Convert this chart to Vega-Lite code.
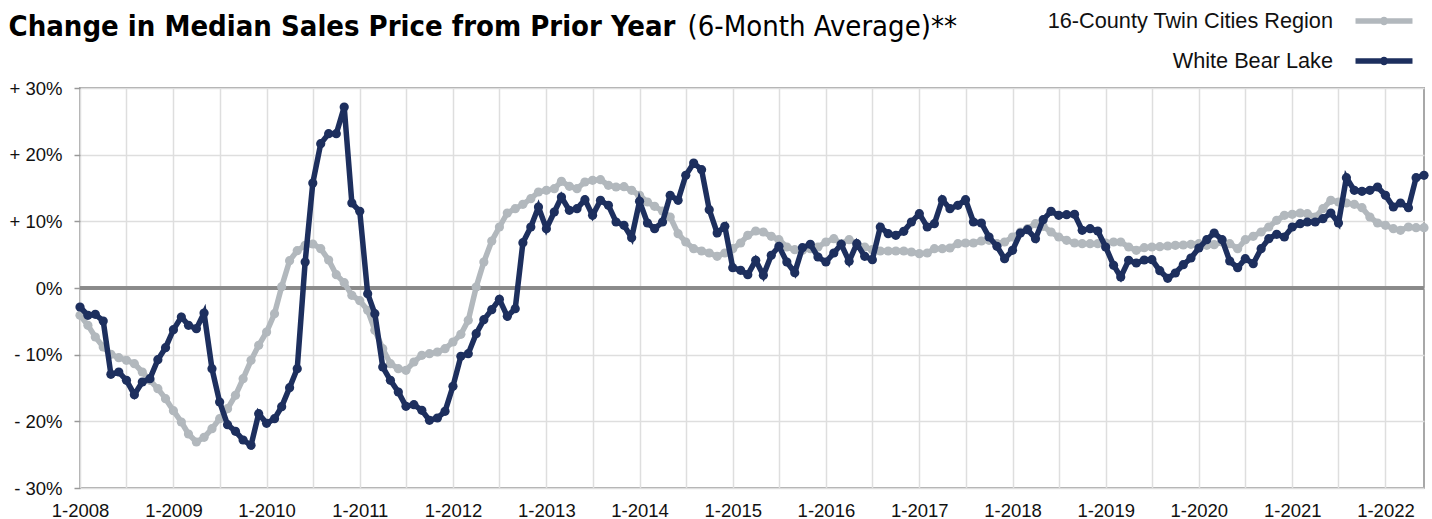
{
  "$schema": "https://vega.github.io/schema/vega-lite/v6.json",
  "width": 1344,
  "height": 400,
  "autosize": {"type": "none"},
  "padding": {"left": 80, "top": 88, "right": 8, "bottom": 31},
  "background": "white",
  "datasets": {
    "region": [
      {"d": "2008-01-01", "v": -4.1}, {"d": "2008-02-01", "v": -5.6}, {"d": "2008-03-01", "v": -7.35}, {"d": "2008-04-01", "v": -8.85}, {"d": "2008-05-01", "v": -9.95}, {"d": "2008-06-01", "v": -10.45}, {"d": "2008-07-01", "v": -10.85}, {"d": "2008-08-01", "v": -11.35}, {"d": "2008-09-01", "v": -12.6}, {"d": "2008-10-01", "v": -13.85}, {"d": "2008-11-01", "v": -15.1}, {"d": "2008-12-01", "v": -16.6},
      {"d": "2009-01-01", "v": -18.4}, {"d": "2009-02-01", "v": -20.1}, {"d": "2009-03-01", "v": -21.9}, {"d": "2009-04-01", "v": -23.1}, {"d": "2009-05-01", "v": -22.4}, {"d": "2009-06-01", "v": -21.1}, {"d": "2009-07-01", "v": -19.6}, {"d": "2009-08-01", "v": -18.1}, {"d": "2009-09-01", "v": -16.1}, {"d": "2009-10-01", "v": -13.6}, {"d": "2009-11-01", "v": -10.85}, {"d": "2009-12-01", "v": -8.6},
      {"d": "2010-01-01", "v": -6.6}, {"d": "2010-02-01", "v": -3.85}, {"d": "2010-03-01", "v": 0.2}, {"d": "2010-04-01", "v": 4.1}, {"d": "2010-05-01", "v": 5.6}, {"d": "2010-06-01", "v": 6.4}, {"d": "2010-07-01", "v": 6.6}, {"d": "2010-08-01", "v": 5.9}, {"d": "2010-09-01", "v": 4.2}, {"d": "2010-10-01", "v": 2.0}, {"d": "2010-11-01", "v": 0.8}, {"d": "2010-12-01", "v": -1.1},
      {"d": "2011-01-01", "v": -1.9}, {"d": "2011-02-01", "v": -3.35}, {"d": "2011-03-01", "v": -6.35}, {"d": "2011-04-01", "v": -9.1}, {"d": "2011-05-01", "v": -11.35}, {"d": "2011-06-01", "v": -12.1}, {"d": "2011-07-01", "v": -12.35}, {"d": "2011-08-01", "v": -11.1}, {"d": "2011-09-01", "v": -10.1}, {"d": "2011-10-01", "v": -9.85}, {"d": "2011-11-01", "v": -9.6}, {"d": "2011-12-01", "v": -9.1},
      {"d": "2012-01-01", "v": -8.1}, {"d": "2012-02-01", "v": -6.95}, {"d": "2012-03-01", "v": -4.85}, {"d": "2012-04-01", "v": 0.15}, {"d": "2012-05-01", "v": 3.9}, {"d": "2012-06-01", "v": 7.05}, {"d": "2012-07-01", "v": 9.15}, {"d": "2012-08-01", "v": 11.25}, {"d": "2012-09-01", "v": 11.9}, {"d": "2012-10-01", "v": 12.55}, {"d": "2012-11-01", "v": 13.4}, {"d": "2012-12-01", "v": 14.4},
      {"d": "2013-01-01", "v": 14.65}, {"d": "2013-02-01", "v": 14.9}, {"d": "2013-03-01", "v": 16.0}, {"d": "2013-04-01", "v": 15.25}, {"d": "2013-05-01", "v": 14.9}, {"d": "2013-06-01", "v": 15.9}, {"d": "2013-07-01", "v": 16.15}, {"d": "2013-08-01", "v": 16.25}, {"d": "2013-09-01", "v": 15.4}, {"d": "2013-10-01", "v": 15.15}, {"d": "2013-11-01", "v": 15.2}, {"d": "2013-12-01", "v": 14.65},
      {"d": "2014-01-01", "v": 13.9}, {"d": "2014-02-01", "v": 12.9}, {"d": "2014-03-01", "v": 12.25}, {"d": "2014-04-01", "v": 11.55}, {"d": "2014-05-01", "v": 10.65}, {"d": "2014-06-01", "v": 8.15}, {"d": "2014-07-01", "v": 6.9}, {"d": "2014-08-01", "v": 5.9}, {"d": "2014-09-01", "v": 5.55}, {"d": "2014-10-01", "v": 5.25}, {"d": "2014-11-01", "v": 4.75}, {"d": "2014-12-01", "v": 5.25},
      {"d": "2015-01-01", "v": 5.9}, {"d": "2015-02-01", "v": 6.75}, {"d": "2015-03-01", "v": 7.9}, {"d": "2015-04-01", "v": 8.55}, {"d": "2015-05-01", "v": 8.4}, {"d": "2015-06-01", "v": 7.75}, {"d": "2015-07-01", "v": 7.25}, {"d": "2015-08-01", "v": 6.15}, {"d": "2015-09-01", "v": 5.75}, {"d": "2015-10-01", "v": 5.65}, {"d": "2015-11-01", "v": 5.9}, {"d": "2015-12-01", "v": 6.15},
      {"d": "2016-01-01", "v": 6.9}, {"d": "2016-02-01", "v": 7.4}, {"d": "2016-03-01", "v": 6.65}, {"d": "2016-04-01", "v": 7.25}, {"d": "2016-05-01", "v": 6.65}, {"d": "2016-06-01", "v": 6.15}, {"d": "2016-07-01", "v": 5.75}, {"d": "2016-08-01", "v": 5.55}, {"d": "2016-09-01", "v": 5.55}, {"d": "2016-10-01", "v": 5.55}, {"d": "2016-11-01", "v": 5.55}, {"d": "2016-12-01", "v": 5.4},
      {"d": "2017-01-01", "v": 5.15}, {"d": "2017-02-01", "v": 5.25}, {"d": "2017-03-01", "v": 5.9}, {"d": "2017-04-01", "v": 5.9}, {"d": "2017-05-01", "v": 6.0}, {"d": "2017-06-01", "v": 6.65}, {"d": "2017-07-01", "v": 6.75}, {"d": "2017-08-01", "v": 6.75}, {"d": "2017-09-01", "v": 7.05}, {"d": "2017-10-01", "v": 7.15}, {"d": "2017-11-01", "v": 6.65}, {"d": "2017-12-01", "v": 6.9},
      {"d": "2018-01-01", "v": 7.65}, {"d": "2018-02-01", "v": 8.4}, {"d": "2018-03-01", "v": 8.9}, {"d": "2018-04-01", "v": 9.65}, {"d": "2018-05-01", "v": 9.25}, {"d": "2018-06-01", "v": 8.4}, {"d": "2018-07-01", "v": 7.65}, {"d": "2018-08-01", "v": 7.15}, {"d": "2018-09-01", "v": 6.75}, {"d": "2018-10-01", "v": 6.65}, {"d": "2018-11-01", "v": 6.65}, {"d": "2018-12-01", "v": 6.65},
      {"d": "2019-01-01", "v": 6.75}, {"d": "2019-02-01", "v": 6.9}, {"d": "2019-03-01", "v": 6.9}, {"d": "2019-04-01", "v": 6.15}, {"d": "2019-05-01", "v": 5.65}, {"d": "2019-06-01", "v": 6.05}, {"d": "2019-07-01", "v": 6.15}, {"d": "2019-08-01", "v": 6.2}, {"d": "2019-09-01", "v": 6.3}, {"d": "2019-10-01", "v": 6.4}, {"d": "2019-11-01", "v": 6.45}, {"d": "2019-12-01", "v": 6.55},
      {"d": "2020-01-01", "v": 6.65}, {"d": "2020-02-01", "v": 6.4}, {"d": "2020-03-01", "v": 6.5}, {"d": "2020-04-01", "v": 6.9}, {"d": "2020-05-01", "v": 6.65}, {"d": "2020-06-01", "v": 5.9}, {"d": "2020-07-01", "v": 7.25}, {"d": "2020-08-01", "v": 7.75}, {"d": "2020-09-01", "v": 8.4}, {"d": "2020-10-01", "v": 9.15}, {"d": "2020-11-01", "v": 10.15}, {"d": "2020-12-01", "v": 10.9},
      {"d": "2021-01-01", "v": 11.05}, {"d": "2021-02-01", "v": 11.25}, {"d": "2021-03-01", "v": 11.15}, {"d": "2021-04-01", "v": 10.65}, {"d": "2021-05-01", "v": 11.9}, {"d": "2021-06-01", "v": 13.15}, {"d": "2021-07-01", "v": 12.9}, {"d": "2021-08-01", "v": 12.75}, {"d": "2021-09-01", "v": 12.55}, {"d": "2021-10-01", "v": 12.05}, {"d": "2021-11-01", "v": 10.65}, {"d": "2021-12-01", "v": 9.75},
      {"d": "2022-01-01", "v": 9.4}, {"d": "2022-02-01", "v": 8.9}, {"d": "2022-03-01", "v": 8.65}, {"d": "2022-04-01", "v": 9.15}, {"d": "2022-05-01", "v": 9.05}, {"d": "2022-06-01", "v": 9.05}
    ],
    "wbl": [
      {"d": "2008-01-01", "v": -2.85}, {"d": "2008-02-01", "v": -4.1}, {"d": "2008-03-01", "v": -3.95}, {"d": "2008-04-01", "v": -4.95}, {"d": "2008-05-01", "v": -12.95}, {"d": "2008-06-01", "v": -12.6}, {"d": "2008-07-01", "v": -13.85}, {"d": "2008-08-01", "v": -16.0}, {"d": "2008-09-01", "v": -14.1}, {"d": "2008-10-01", "v": -13.6}, {"d": "2008-11-01", "v": -10.75}, {"d": "2008-12-01", "v": -8.95},
      {"d": "2009-01-01", "v": -6.25}, {"d": "2009-02-01", "v": -4.35}, {"d": "2009-03-01", "v": -5.6}, {"d": "2009-04-01", "v": -6.1}, {"d": "2009-05-01", "v": -3.75}, {"d": "2009-06-01", "v": -12.1}, {"d": "2009-07-01", "v": -17.1}, {"d": "2009-08-01", "v": -20.5}, {"d": "2009-09-01", "v": -21.5}, {"d": "2009-10-01", "v": -22.8}, {"d": "2009-11-01", "v": -23.6}, {"d": "2009-12-01", "v": -18.85},
      {"d": "2010-01-01", "v": -20.3}, {"d": "2010-02-01", "v": -19.6}, {"d": "2010-03-01", "v": -17.8}, {"d": "2010-04-01", "v": -14.95}, {"d": "2010-05-01", "v": -12.1}, {"d": "2010-06-01", "v": 3.9}, {"d": "2010-07-01", "v": 15.75}, {"d": "2010-08-01", "v": 21.65}, {"d": "2010-09-01", "v": 23.15}, {"d": "2010-10-01", "v": 23.15}, {"d": "2010-11-01", "v": 27.15}, {"d": "2010-12-01", "v": 12.75},
      {"d": "2011-01-01", "v": 11.5}, {"d": "2011-02-01", "v": -0.85}, {"d": "2011-03-01", "v": -3.85}, {"d": "2011-04-01", "v": -11.85}, {"d": "2011-05-01", "v": -13.85}, {"d": "2011-06-01", "v": -15.6}, {"d": "2011-07-01", "v": -17.75}, {"d": "2011-08-01", "v": -17.5}, {"d": "2011-09-01", "v": -18.35}, {"d": "2011-10-01", "v": -19.85}, {"d": "2011-11-01", "v": -19.5}, {"d": "2011-12-01", "v": -18.5},
      {"d": "2012-01-01", "v": -14.75}, {"d": "2012-02-01", "v": -10.25}, {"d": "2012-03-01", "v": -9.85}, {"d": "2012-04-01", "v": -6.85}, {"d": "2012-05-01", "v": -4.75}, {"d": "2012-06-01", "v": -3.25}, {"d": "2012-07-01", "v": -1.7}, {"d": "2012-08-01", "v": -4.25}, {"d": "2012-09-01", "v": -3.1}, {"d": "2012-10-01", "v": 6.8}, {"d": "2012-11-01", "v": 9.15}, {"d": "2012-12-01", "v": 12.15},
      {"d": "2013-01-01", "v": 8.9}, {"d": "2013-02-01", "v": 11.4}, {"d": "2013-03-01", "v": 13.65}, {"d": "2013-04-01", "v": 11.65}, {"d": "2013-05-01", "v": 11.9}, {"d": "2013-06-01", "v": 13.25}, {"d": "2013-07-01", "v": 10.9}, {"d": "2013-08-01", "v": 13.15}, {"d": "2013-09-01", "v": 12.4}, {"d": "2013-10-01", "v": 9.9}, {"d": "2013-11-01", "v": 9.4}, {"d": "2013-12-01", "v": 7.55},
      {"d": "2014-01-01", "v": 13.0}, {"d": "2014-02-01", "v": 9.75}, {"d": "2014-03-01", "v": 8.9}, {"d": "2014-04-01", "v": 9.9}, {"d": "2014-05-01", "v": 13.9}, {"d": "2014-06-01", "v": 13.15}, {"d": "2014-07-01", "v": 16.9}, {"d": "2014-08-01", "v": 18.75}, {"d": "2014-09-01", "v": 17.75}, {"d": "2014-10-01", "v": 11.75}, {"d": "2014-11-01", "v": 8.25}, {"d": "2014-12-01", "v": 9.25},
      {"d": "2015-01-01", "v": 3.05}, {"d": "2015-02-01", "v": 2.65}, {"d": "2015-03-01", "v": 2.0}, {"d": "2015-04-01", "v": 4.15}, {"d": "2015-05-01", "v": 1.9}, {"d": "2015-06-01", "v": 4.9}, {"d": "2015-07-01", "v": 6.25}, {"d": "2015-08-01", "v": 3.9}, {"d": "2015-09-01", "v": 2.3}, {"d": "2015-10-01", "v": 6.05}, {"d": "2015-11-01", "v": 6.55}, {"d": "2015-12-01", "v": 4.65},
      {"d": "2016-01-01", "v": 3.9}, {"d": "2016-02-01", "v": 5.25}, {"d": "2016-03-01", "v": 6.55}, {"d": "2016-04-01", "v": 4.0}, {"d": "2016-05-01", "v": 6.65}, {"d": "2016-06-01", "v": 4.75}, {"d": "2016-07-01", "v": 4.25}, {"d": "2016-08-01", "v": 9.15}, {"d": "2016-09-01", "v": 8.15}, {"d": "2016-10-01", "v": 7.9}, {"d": "2016-11-01", "v": 8.5}, {"d": "2016-12-01", "v": 9.9},
      {"d": "2017-01-01", "v": 11.15}, {"d": "2017-02-01", "v": 9.15}, {"d": "2017-03-01", "v": 9.65}, {"d": "2017-04-01", "v": 13.25}, {"d": "2017-05-01", "v": 11.9}, {"d": "2017-06-01", "v": 12.4}, {"d": "2017-07-01", "v": 13.25}, {"d": "2017-08-01", "v": 9.9}, {"d": "2017-09-01", "v": 9.75}, {"d": "2017-10-01", "v": 7.65}, {"d": "2017-11-01", "v": 6.25}, {"d": "2017-12-01", "v": 4.4},
      {"d": "2018-01-01", "v": 5.65}, {"d": "2018-02-01", "v": 8.25}, {"d": "2018-03-01", "v": 8.75}, {"d": "2018-04-01", "v": 7.4}, {"d": "2018-05-01", "v": 10.25}, {"d": "2018-06-01", "v": 11.5}, {"d": "2018-07-01", "v": 10.9}, {"d": "2018-08-01", "v": 11.0}, {"d": "2018-09-01", "v": 11.05}, {"d": "2018-10-01", "v": 8.65}, {"d": "2018-11-01", "v": 8.9}, {"d": "2018-12-01", "v": 8.55},
      {"d": "2019-01-01", "v": 6.15}, {"d": "2019-02-01", "v": 3.4}, {"d": "2019-03-01", "v": 1.65}, {"d": "2019-04-01", "v": 4.15}, {"d": "2019-05-01", "v": 3.75}, {"d": "2019-06-01", "v": 4.2}, {"d": "2019-07-01", "v": 4.25}, {"d": "2019-08-01", "v": 2.6}, {"d": "2019-09-01", "v": 1.45}, {"d": "2019-10-01", "v": 2.25}, {"d": "2019-11-01", "v": 3.5}, {"d": "2019-12-01", "v": 4.5},
      {"d": "2020-01-01", "v": 6.0}, {"d": "2020-02-01", "v": 7.25}, {"d": "2020-03-01", "v": 8.25}, {"d": "2020-04-01", "v": 7.25}, {"d": "2020-05-01", "v": 4.05}, {"d": "2020-06-01", "v": 3.05}, {"d": "2020-07-01", "v": 4.4}, {"d": "2020-08-01", "v": 3.65}, {"d": "2020-09-01", "v": 5.9}, {"d": "2020-10-01", "v": 7.4}, {"d": "2020-11-01", "v": 8.05}, {"d": "2020-12-01", "v": 7.65},
      {"d": "2021-01-01", "v": 9.15}, {"d": "2021-02-01", "v": 9.65}, {"d": "2021-03-01", "v": 9.9}, {"d": "2021-04-01", "v": 9.9}, {"d": "2021-05-01", "v": 10.4}, {"d": "2021-06-01", "v": 11.25}, {"d": "2021-07-01", "v": 9.75}, {"d": "2021-08-01", "v": 16.55}, {"d": "2021-09-01", "v": 14.65}, {"d": "2021-10-01", "v": 14.5}, {"d": "2021-11-01", "v": 14.65}, {"d": "2021-12-01", "v": 15.15},
      {"d": "2022-01-01", "v": 13.9}, {"d": "2022-02-01", "v": 12.15}, {"d": "2022-03-01", "v": 12.75}, {"d": "2022-04-01", "v": 12.05}, {"d": "2022-05-01", "v": 16.55}, {"d": "2022-06-01", "v": 16.9}
    ]
  },
  "config": {
    "view": {"stroke": "#a8a8a8", "strokeWidth": 2},
    "font": "Liberation Sans",
    "axis": {
      "labelFont": "Liberation Sans",
      "labelFontSize": 18.5,
      "labelColor": "#111111",
      "gridColor": "#dedede",
      "gridWidth": 1.5,
      "domain": false
    }
  },
  "layer": [
    {
      "data": {"name": "region"},
      "mark": {"type": "rule", "color": "#8a8a8a", "strokeWidth": 2.5},
      "encoding": {"y": {"datum": 0, "type": "quantitative"}}
    },
    {
      "data": {"name": "region"},
      "mark": {"type": "line", "strokeWidth": 5.5, "point": {"size": 85, "filled": true, "opacity": 1}},
      "encoding": {
        "x": {
          "field": "d",
          "type": "temporal",
          "scale": {"type": "utc", "nice": false, "domain": [{"year": 2008, "month": 1, "date": 1, "utc": true}, {"year": 2022, "month": 6, "date": 1, "utc": true}]},
          "axis": {
            "title": "Change in Median Sales Price from Prior Year",
            "titleFont": "DejaVu Sans Condensed",
            "titleFontWeight": "bold",
            "titleFontSize": 29,
            "titleColor": "#000000",
            "titleX": -72,
            "titleY": -453,
            "titleAlign": "left",
            "titleBaseline": "alphabetic",
            "titleAngle": 0,
            "tickCount": {"interval": "month", "step": 6},
            "labelExpr": "utcmonth(datum.value) == 0 ? '1-' + utcyear(datum.value) : ''",
            "ticks": false,
            "labelPadding": 13,
            "labelFlush": false,
            "labelOverlap": false,
            "grid": true
          }
        },
        "y": {
          "field": "v",
          "type": "quantitative",
          "scale": {"domain": [-30, 30], "nice": false, "zero": false},
          "axis": {
            "title": "(6-Month Average)**",
            "titleFont": "DejaVu Sans Condensed",
            "titleFontWeight": "normal",
            "titleFontSize": 29,
            "titleColor": "#000000",
            "titleAngle": 0,
            "titleX": 607,
            "titleY": -53,
            "titleAlign": "left",
            "titleBaseline": "alphabetic",
            "values": [-30, -20, -10, 0, 10, 20, 30],
            "labelExpr": "datum.value > 0 ? '+ ' + datum.value + '%' : (datum.value < 0 ? '- ' + (-datum.value) + '%' : '0%')",
            "ticks": true,
            "tickSize": 6,
            "tickColor": "#999999",
            "tickWidth": 1.5,
            "labelPadding": 12,
            "grid": true
          }
        },
        "color": {
          "datum": "16-County Twin Cities Region",
          "type": "nominal",
          "scale": {"domain": ["16-County Twin Cities Region", "White Bear Lake"], "range": ["#b2b8bd", "#1d2f5e"]},
          "legend": {
            "orient": "none",
            "legendX": 1287,
            "legendY": -84,
            "direction": "vertical",
            "title": null,
            "symbolType": "M-2,0L2,0M0.1,0A0.1,0.1,0,1,1,-0.1,0A0.1,0.1,0,1,1,0.1,0",
            "symbolSize": 812,
            "symbolStrokeWidth": 5.5,
            "labelAlign": "right",
            "labelOffset": -68,
            "labelFont": "Liberation Sans",
            "labelFontSize": 21.7,
            "labelColor": "#111111",
            "labelLimit": 500,
            "rowPadding": 10,
            "padding": 0
          }
        }
      }
    },
    {
      "data": {"name": "wbl"},
      "mark": {"type": "line", "strokeWidth": 5.5, "point": {"size": 85, "filled": true, "opacity": 1}},
      "encoding": {
        "x": {"field": "d", "type": "temporal"},
        "y": {"field": "v", "type": "quantitative"},
        "color": {"datum": "White Bear Lake", "type": "nominal"}
      }
    }
  ]
}
